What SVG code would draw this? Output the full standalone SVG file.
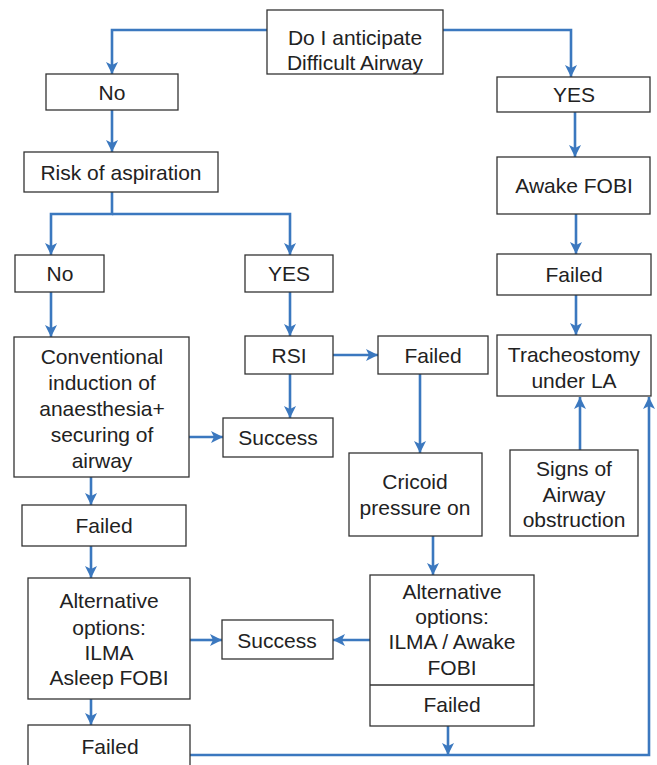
<svg xmlns="http://www.w3.org/2000/svg" width="657" height="765" viewBox="0 0 657 765">
<defs>
<marker id="ah" markerUnits="userSpaceOnUse" markerWidth="12" markerHeight="14" viewBox="0 0 12 14" refX="12" refY="7" orient="auto">
<path d="M0,1 L12,7 L0,13 L3,7 Z" fill="#3b78bf"/>
</marker>
<style>
.b{fill:#fff;stroke:#333;stroke-width:1.3}
.c{fill:none;stroke:#3b78bf;stroke-width:2.6;marker-end:url(#ah)}
text{font-family:"Liberation Sans",Arial,sans-serif;font-size:21px;fill:#222;text-anchor:middle}
</style>
</defs>
<rect width="657" height="765" fill="#fff"/>
<g id="connectors">
<path class="c" d="M267,30 H112 V74"/>
<path class="c" d="M443,30 H571 V77"/>
<path class="c" d="M112,110 V152"/>
<path class="c" d="M112,192 V214 H51 V255"/>
<path class="c" d="M112,214 H290 V255"/>
<path class="c" d="M575,112 V157"/>
<path class="c" d="M576,214 V254"/>
<path class="c" d="M576,295 V335"/>
<path class="c" d="M51,292 V337"/>
<path class="c" d="M290,292 V336"/>
<path class="c" d="M290,374 V418"/>
<path class="c" d="M189,437 H223"/>
<path class="c" d="M333,355 H378"/>
<path class="c" d="M420,374 V453"/>
<path class="c" d="M433,536 V575"/>
<path class="c" d="M370,640 H333"/>
<path class="c" d="M190,640 H222"/>
<path class="c" d="M91,477 V505"/>
<path class="c" d="M91,546 V578"/>
<path class="c" d="M91,699 V725"/>
<path class="c" d="M448,726 V755"/>
<path class="c" d="M190,755 H649 V397"/>
<path class="c" d="M580,450 V397"/>
</g>
<g id="n-start"><rect class="b" x="267" y="10" width="176" height="64"/><text x="355" y="45">Do I anticipate</text><text x="355" y="70">Difficult Airway</text></g>
<g id="n-no1"><rect class="b" x="46" y="74" width="132" height="36"/><text x="112" y="100">No</text></g>
<g id="n-yes1"><rect class="b" x="497" y="77" width="153" height="35"/><text x="574" y="102">YES</text></g>
<g id="n-risk"><rect class="b" x="24" y="152" width="194" height="40"/><text x="121" y="180">Risk of aspiration</text></g>
<g id="n-awake"><rect class="b" x="497" y="157" width="153" height="57"/><text x="574" y="193">Awake FOBI</text></g>
<g id="n-no2"><rect class="b" x="15" y="255" width="89" height="37"/><text x="60" y="281">No</text></g>
<g id="n-yes2"><rect class="b" x="245" y="255" width="88" height="37"/><text x="289" y="281">YES</text></g>
<g id="n-failedR"><rect class="b" x="497" y="254" width="154" height="41"/><text x="574" y="282">Failed</text></g>
<g id="n-conv"><rect class="b" x="14" y="337" width="175" height="140"/><text x="102" y="364">Conventional</text><text x="102" y="390">induction of</text><text x="102" y="416">anaesthesia+</text><text x="102" y="442">securing of</text><text x="102" y="468">airway</text></g>
<g id="n-rsi"><rect class="b" x="245" y="336" width="88" height="38"/><text x="289" y="363">RSI</text></g>
<g id="n-failedM"><rect class="b" x="378" y="336" width="110" height="38"/><text x="433" y="363">Failed</text></g>
<g id="n-trach"><rect class="b" x="497" y="335" width="154" height="61"/><text x="574" y="362">Tracheostomy</text><text x="574" y="388">under LA</text></g>
<g id="n-success1"><rect class="b" x="223" y="418" width="110" height="39"/><text x="278" y="445">Success</text></g>
<g id="n-signs"><rect class="b" x="510" y="450" width="128" height="86"/><text x="574" y="476">Signs of</text><text x="574" y="502">Airway</text><text x="574" y="527">obstruction</text></g>
<g id="n-cricoid"><rect class="b" x="349" y="453" width="133" height="83"/><text x="415" y="489">Cricoid</text><text x="415" y="515">pressure on</text></g>
<g id="n-failedL"><rect class="b" x="22" y="505" width="164" height="41"/><text x="104" y="533">Failed</text></g>
<g id="n-altL"><rect class="b" x="28" y="578" width="162" height="121"/><text x="109" y="608">Alternative</text><text x="109" y="635">options:</text><text x="109" y="660">ILMA</text><text x="109" y="685">Asleep FOBI</text></g>
<g id="n-success2"><rect class="b" x="222" y="620" width="111" height="39"/><text x="277" y="648">Success</text></g>
<g id="n-altR"><rect class="b" x="370" y="575" width="164" height="151"/><line x1="370" y1="685" x2="534" y2="685" stroke="#333" stroke-width="1.3"/><text x="452" y="599">Alternative</text><text x="452" y="624">options:</text><text x="452" y="649">ILMA / Awake</text><text x="452" y="675">FOBI</text><text x="452" y="712">Failed</text></g>
<g id="n-failedB"><rect class="b" x="28" y="725" width="162" height="50"/><text x="110" y="754">Failed</text></g>
</svg>
